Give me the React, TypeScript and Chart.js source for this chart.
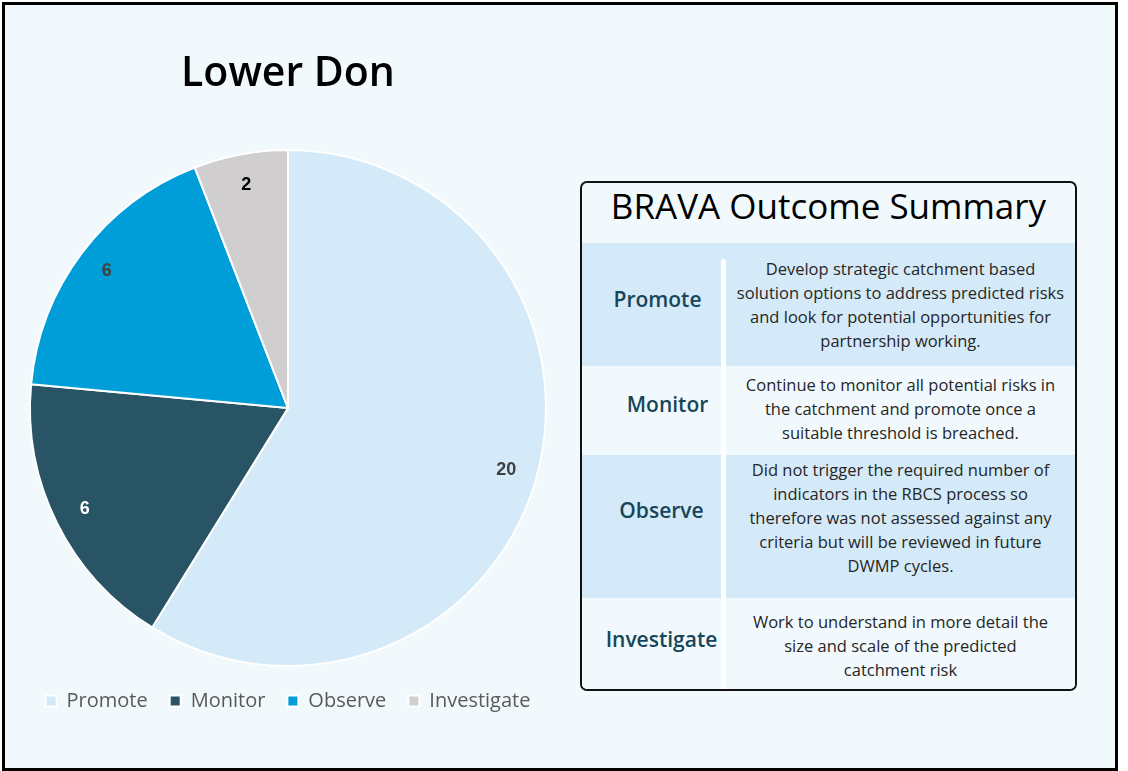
import React, { useEffect, useRef } from "react";
import { Chart, registerables } from "chart.js";

Chart.register(...registerables);

const TITLE = "Lower Don";
const categories = ["Promote", "Monitor", "Observe", "Investigate"];
const counts = [20, 6, 6, 2];
const sliceColors = ["#d5eaf8", "#285466", "#009ed8", "#d0cece"];
const valueLabelColors = ["#404040", "#ffffff", "#404040", "#000000"];

const tableTitle = "BRAVA Outcome Summary";
const outcomeNames = ["Promote", "Monitor", "Observe", "Investigate"];
const outcomeText = [
  [
    "Develop strategic catchment based",
    "solution options to address predicted risks",
    "and look for potential opportunities for",
    "partnership working.",
  ],
  [
    "Continue to monitor all potential risks in",
    "the catchment and promote once a",
    "suitable threshold is breached.",
  ],
  [
    "Did not trigger the required number of",
    "indicators in the RBCS process so",
    "therefore was not assessed against any",
    "criteria but will be reviewed in future",
    "DWMP cycles.",
  ],
  [
    "Work to understand in more detail the",
    "size and scale of the predicted",
    "catchment risk",
  ],
];

const FONT = "'Open Sans', 'Noto Sans', sans-serif";
const BG = "#f1f9fd";
const ROW_BG = ["#d5eaf8", BG, "#d5eaf8", BG];
const ROW_H = [123, 89, 143, 91];
const LABEL_SHIFT = [-6, -7, -17, -5];
const LABEL_X = [6, 16, 10, 10];
const TEXT_SHIFT = [0, -2, -9, 2];

const valueLabelPlugin = {
  id: "valueLabels",
  afterDatasetsDraw(chart: any) {
    const ctx = chart.ctx;
    const meta = chart.getDatasetMeta(0);
    const data = chart.data.datasets[0].data as number[];
    ctx.save();
    ctx.font = "bold 18px 'Liberation Sans', Arial, sans-serif";
    ctx.textAlign = "center";
    ctx.textBaseline = "middle";
    meta.data.forEach((arc: any, i: number) => {
      const p = arc.getProps(["x", "y", "startAngle", "endAngle", "outerRadius"], true);
      const mid = (p.startAngle + p.endAngle) / 2;
      const r = p.outerRadius * 0.88;
      ctx.fillStyle = valueLabelColors[i];
      ctx.fillText(String(data[i]), p.x + Math.cos(mid) * r, p.y + Math.sin(mid) * r);
    });
    ctx.restore();
  },
};

function PieChart() {
  const ref = useRef<HTMLCanvasElement | null>(null);
  useEffect(() => {
    if (!ref.current) return;
    const chart = new Chart(ref.current, {
      type: "pie",
      data: {
        labels: categories,
        datasets: [
          {
            data: counts,
            backgroundColor: sliceColors,
            borderColor: "#ffffff",
            borderWidth: 2,
            radius: 258,
          },
        ],
      },
      options: {
        responsive: false,
        animation: false,
        layout: { padding: { left: 0, right: 0, top: 0, bottom: 50 } },
        plugins: {
          title: {
            display: true,
            text: TITLE,
            color: "#000000",
            font: { family: FONT, size: 41, weight: "600" as any },
            padding: { top: 50, bottom: 48 },
          },
          legend: {
            position: "bottom",
            labels: {
              boxWidth: 11,
              boxHeight: 11,
              padding: 22,
              color: "#595959",
              font: { family: FONT, size: 20 },
            },
          },
          tooltip: { enabled: false },
        },
      },
      plugins: [valueLabelPlugin],
    });
    return () => chart.destroy();
  }, []);
  return (
    <canvas
      ref={ref}
      width={576}
      height={771}
      style={{ position: "absolute", left: 0, top: 0, width: 576, height: 771 }}
    />
  );
}

function SummaryTable() {
  return (
    <div
      style={{
        position: "absolute",
        left: 580,
        top: 181,
        width: 497,
        height: 510,
        border: "2px solid #111",
        borderRadius: 7,
        boxSizing: "border-box",
        overflow: "hidden",
        background: BG,
        fontFamily: FONT,
      }}
    >
      <div
        style={{
          height: 60,
          display: "flex",
          alignItems: "center",
          justifyContent: "center",
          fontSize: 35,
          fontWeight: 500,
          color: "#000",
        }}
      >
        <span style={{ transform: "translateY(-8px)" }}>{tableTitle}</span>
      </div>
      {outcomeNames.map((name, i) => (
        <div
          key={name}
          style={{ display: "flex", height: ROW_H[i], background: ROW_BG[i] }}
        >
          <div
            style={{
              width: 139,
              display: "flex",
              alignItems: "center",
              justifyContent: "center",
              fontSize: 21,
              fontWeight: 600,
              color: "#17465a",
            }}
          >
            <span style={{ transform: `translate(${LABEL_X[i]}px, ${LABEL_SHIFT[i]}px)` }}>{name}</span>
          </div>
          <div style={{ width: 5, background: i === 0 ? "transparent" : "#ffffff", position: "relative" }}>
            {i === 0 && (
              <div
                style={{
                  position: "absolute",
                  left: 0,
                  top: 16,
                  bottom: 0,
                  width: 5,
                  background: "#fff",
                  borderTopLeftRadius: 3,
                  borderTopRightRadius: 3,
                }}
              />
            )}
          </div>
          <div
            style={{
              flex: 1,
              display: "flex",
              flexDirection: "column",
              alignItems: "center",
              justifyContent: "center",
              fontSize: 16.5,
              lineHeight: "24px",
              color: "#262626",
              textAlign: "center",
            }}
          >
            <div style={{ transform: `translateY(${TEXT_SHIFT[i]}px)` }}>
              {outcomeText[i].map((line, j) => (
                <div key={j} style={{ whiteSpace: "nowrap" }}>
                  {line}
                </div>
              ))}
            </div>
          </div>
        </div>
      ))}
    </div>
  );
}

export default function App() {
  return (
    <div
      style={{
        position: "fixed",
        left: 0,
        top: 0,
        width: 1128,
        height: 771,
        background: "#ffffff",
        overflow: "hidden",
      }}
    >
      <div
        style={{
          position: "absolute",
          left: 2,
          top: 2,
          width: 1116,
          height: 769,
          border: "3px solid #000",
          boxSizing: "border-box",
          background: BG,
        }}
      />
      <PieChart />
      <SummaryTable />
    </div>
  );
}
